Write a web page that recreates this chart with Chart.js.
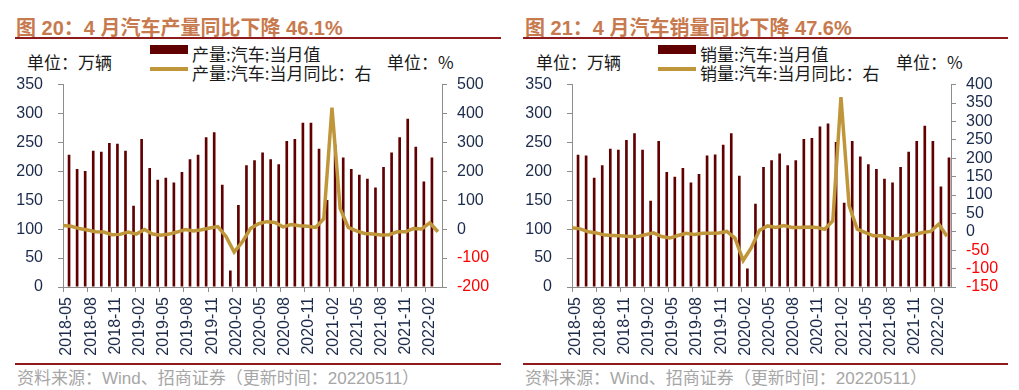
<!DOCTYPE html>
<html><head><meta charset="utf-8">
<script src="https://cdn.jsdelivr.net/npm/chart.js@4.4.0/dist/chart.umd.min.js"></script>
<style>
html,body{margin:0;padding:0;background:#fff;width:1019px;height:390px;overflow:hidden;position:relative}
.t{position:absolute;white-space:nowrap;line-height:1}
.title{font:bold 20px 'Liberation Sans','Noto Sans CJK SC',sans-serif;color:#C77A4E}
.cjk{font:17px 'Noto Sans CJK SC',sans-serif;color:#1a1a1a}
.src{font:17px 'Liberation Sans','Noto Sans CJK SC',sans-serif;color:#A6A6A6}
.rule{position:absolute;height:2px;background:#8E1B1B}
.sw{position:absolute}
canvas{position:absolute}
</style></head><body>
<div class="t title" style="left:16px;top:12px">图 20：4 月汽车产量同比下降 46.1%</div>
<div class="rule" style="left:15px;top:37px;width:486px"></div>
<div class="t cjk" style="left:27px;top:49px">单位：万辆</div>
<div class="sw" style="left:150px;top:45px;width:38px;height:9px;background:#600000"></div>
<div class="t cjk" style="left:192px;top:41px">产量:汽车:当月值</div>
<div class="sw" style="left:150px;top:67px;width:38px;height:4px;background:#C0963A"></div>
<div class="t cjk" style="left:192px;top:60px">产量:汽车:当月同比：右</div>
<div class="t cjk" style="left:387px;top:49px">单位：%</div>
<div class="rule" style="left:15px;top:363px;width:486px"></div>
<div class="t src" style="left:17px;top:364px">资料来源：Wind、招商证券（更新时间：20220511）</div>

<div class="t title" style="left:525px;top:12px">图 21：4 月汽车销量同比下降 47.6%</div>
<div class="rule" style="left:523px;top:37px;width:485px"></div>
<div class="t cjk" style="left:536px;top:49px">单位：万辆</div>
<div class="sw" style="left:658px;top:45px;width:38px;height:9px;background:#600000"></div>
<div class="t cjk" style="left:700px;top:41px">销量:汽车:当月值</div>
<div class="sw" style="left:658px;top:67px;width:38px;height:4px;background:#C0963A"></div>
<div class="t cjk" style="left:700px;top:60px">销量:汽车:当月同比：右</div>
<div class="t cjk" style="left:896px;top:49px">单位：%</div>
<div class="rule" style="left:523px;top:363px;width:485px"></div>
<div class="t src" style="left:525px;top:364px">资料来源：Wind、招商证券（更新时间：20220511）</div>

<canvas id="c1" width="510" height="310" style="left:0;top:60px;width:510px;height:310px"></canvas>
<canvas id="c2" width="510" height="310" style="left:509px;top:60px;width:510px;height:310px"></canvas>
<script>
const months = ['2018-05','2018-06','2018-07','2018-08','2018-09','2018-10','2018-11','2018-12',
'2019-01','2019-02','2019-03','2019-04','2019-05','2019-06','2019-07','2019-08','2019-09','2019-10','2019-11','2019-12',
'2020-01','2020-02','2020-03','2020-04','2020-05','2020-06','2020-07','2020-08','2020-09','2020-10','2020-11','2020-12',
'2021-01','2021-02','2021-03','2021-04','2021-05','2021-06','2021-07','2021-08','2021-09','2021-10','2021-11','2021-12',
'2022-01','2022-02','2022-03'];

// 产量:汽车:当月值 (万辆), as placed on the chart's categories
const prodLevel = [228.5,204,200.7,235.8,234,249,247.5,235.8,140.5,256,205.7,185.6,189,180.6,199,220.7,228.5,259,267.5,177,
28.4,142,210.7,219,232.4,220.7,212.4,252.5,256,284,284,239,150.5,245.8,224,204,194,187.3,172.2,207.4,232.4,259,291,242.5,182.3,224,null];
// 产量:汽车:当月同比 (%)
const prodYoY = [13,10,2,-3,-9,-10,-19,-18,-10,-17,-1,-17,-21,-17,-10,-1,-6,-2,4,9,
-25,-79,-44,2,19,26,23,8,16,12,10,6,36,420,72,6,-6,-15,-17,-20,-19,-9,-9,2,1,22,-9];

// 销量:汽车:当月值 (万辆)
const salesLevel = [228.5,227.4,189,210.7,239,237.5,254,266,237.5,149,252.5,199,190.6,205.7,180.6,195.6,227.4,229,245.8,266,
192.3,31.8,143.8,207.4,219,230.8,210.7,219,255.8,257.5,277.6,282.6,250.8,145.5,252.5,225.7,212.4,204,187.3,180.6,207.4,234,252.5,279,252.5,174,224];
// 销量:汽车:当月同比 (%)
const salesYoY = [11,8,0,-3,-9,-10,-11,-13,-13,-8,-3,-13,-17,-10,-4,-7,-4,-4,-3,1,
-17,-78,-43,4,16,12,17,12,12,13,12,7,30,366,71,7,-2,-11,-11,-18,-19,-10,-8,-2,1,21,-12];

const leftTicks = {min:0, max:350, step:50};
const rightTicksProd = {min:-200, max:500, step:100};
const rightTicksSales = {min:-150, max:400, step:50};

const AXIS = '#8C8C8C', NAVY = '#1B2A4A', RED = '#FF0000';
const BAR = '#600000', LINE = '#C0963A';
const tickFont = {family:"'Liberation Sans', Arial, sans-serif", size:16};

function makeChart(id, levels, yoy, rt){
  new Chart(document.getElementById(id), {
    data: {
      labels: months,
      datasets: [
        {type:'line', data: yoy.map((v,k)=>({x:k, y:v})), xAxisID:'x2', yAxisID:'y2',
         borderColor: LINE, borderWidth: 3.5, pointRadius: 0, tension: 0, order: 0},
        {type:'bar', data: levels, xAxisID:'x', yAxisID:'y',
         backgroundColor: BAR, barPercentage: 0.66, categoryPercentage: 1, order: 1}
      ]
    },
    options: {
      responsive:false, animation:false, devicePixelRatio:1,
      layout:{padding:{top:18,bottom:8,left:0,right:8}},
      plugins:{legend:{display:false}, tooltip:{enabled:false}},
      scales:{
        x:{type:'category', offset:true,
           grid:{offset:true, drawOnChartArea:false, tickLength:5,
                 color: c => (c.index % 3 === 0 && c.index < months.length) ? AXIS : 'rgba(0,0,0,0)'},
           border:{color:AXIS},
           ticks:{autoSkip:false, minRotation:90, maxRotation:90, padding:5, font:tickFont, color:NAVY,
                  callback:(v,i)=> i % 3 === 0 ? months[i] : ''},
           afterFit: s => { s.height = 75; }},
        x2:{type:'linear', display:false, min:0, max:46.5},
        y:{position:'left', min:leftTicks.min, max:leftTicks.max,
           ticks:{stepSize:leftTicks.step, autoSkip:false, padding:15, font:tickFont, color:NAVY},
           grid:{drawOnChartArea:false, tickLength:5, color:AXIS},
           border:{color:AXIS},
           afterFit: s => { s.width = 63; }},
        y2:{position:'right', min:rt.min, max:rt.max,
           ticks:{stepSize:rt.step, autoSkip:false, padding:10, font:tickFont,
                  color: c => c.tick && c.tick.value < 0 ? RED : NAVY},
           grid:{drawOnChartArea:false, tickLength:5, color:AXIS},
           border:{color:AXIS},
           afterFit: s => { s.width = 60; }}
      }
    }
  });
}
makeChart('c1', prodLevel, prodYoY, rightTicksProd);
makeChart('c2', salesLevel, salesYoY, rightTicksSales);
</script>
</body></html>
